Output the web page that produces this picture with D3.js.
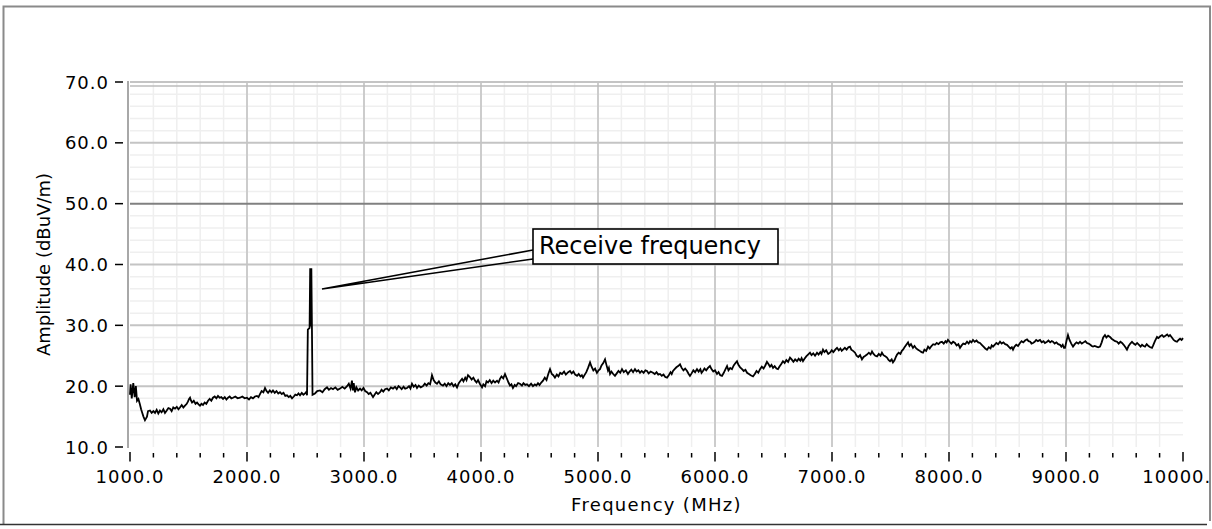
<!DOCTYPE html>
<html><head><meta charset="utf-8">
<script src="https://cdn.jsdelivr.net/npm/d3@7"></script>
<style>
html,body{margin:0;padding:0;background:#fff;}
svg{display:block;}
text{font-family:"DejaVu Sans",Verdana,sans-serif;}
</style></head>
<body>
<svg id="c" width="1212" height="529"></svg>
<script>
// ---- data: [frequency MHz, amplitude dBuV/m] ----
const traceLow = [[1000,18.6],[1005,20.3],[1015,18.0],[1028,20.5],[1040,18.2],[1050,20.0],[1060,17.6],[1072,17.9],[1085,17.0],[1095,16.2],[1103,15.7],[1115,15.0],[1128,14.4],[1137,14.7],[1145,15.0],[1154,15.9],[1171,16.0],[1185,15.6],[1200,15.9],[1214,15.6],[1228,16.1],[1242,15.5],[1256,16.0],[1270,15.7],[1285,16.2],[1299,15.6],[1314,16.0],[1328,16.4],[1342,16.3],[1356,15.9],[1370,16.5],[1385,16.3],[1400,16.6],[1414,16.2],[1427,16.5],[1442,16.9],[1456,16.5],[1470,16.8],[1485,17.1],[1496,17.5],[1505,17.9],[1513,18.1],[1522,17.6],[1530,17.3],[1545,17.6],[1560,17.1],[1573,17.3],[1586,17.0],[1598,16.8],[1611,17.1],[1624,16.9],[1638,17.3],[1652,17.1],[1667,17.6],[1681,17.9],[1695,17.6],[1709,18.1],[1724,18.3],[1738,18.0],[1752,18.4],[1766,18.1],[1780,18.2],[1795,17.9],[1810,18.2],[1824,17.8],[1838,18.1],[1852,18.3],[1866,18.0],[1880,18.1],[1900,18.3],[1920,18.0],[1940,18.1],[1960,18.3],[1980,18.0],[2000,18.1],[2017,17.8],[2034,18.2],[2051,18.0],[2068,18.3],[2085,18.4],[2098,18.2],[2111,18.7],[2125,19.2],[2140,19.0],[2154,19.7],[2167,19.2],[2180,18.9],[2195,19.3],[2210,19.0],[2222,19.3],[2237,18.9],[2252,19.2],[2267,18.8],[2282,19.0],[2297,18.7],[2312,18.9],[2327,18.4],[2342,18.5],[2357,18.2],[2370,18.4],[2385,18.0],[2400,18.3],[2413,18.6],[2427,18.5],[2440,18.8],[2453,18.5],[2468,18.9],[2482,18.6],[2496,18.8],[2508,19.1],[2513,18.5]];
const traceSpike = [[2520,29.3],[2535,29.6],[2540,39.4],[2545,29.8],[2550,39.4],[2555,29.6],[2560,18.6]];
const traceMid = [[2581,18.8],[2600,19.2],[2624,19.3],[2645,19.0],[2664,19.5],[2684,19.8],[2700,19.4],[2718,19.7],[2735,19.5],[2755,19.8],[2775,19.4],[2795,19.6],[2815,19.9],[2835,19.6],[2855,20.0],[2870,20.4],[2885,19.6],[2897,20.9],[2905,19.3],[2912,20.5],[2923,19.0],[2935,19.8],[2950,19.3],[2966,19.6],[2980,19.3],[2995,19.7],[3010,19.2],[3026,19.0],[3040,18.7],[3055,18.9],[3077,18.2],[3090,18.6],[3105,19.0],[3120,18.7],[3137,19.0],[3150,19.4],[3165,19.1],[3180,19.5],[3197,19.6],[3212,19.3],[3230,19.8],[3248,19.6],[3265,19.9],[3280,19.5],[3295,20.0],[3308,19.8],[3322,19.5],[3338,19.9],[3352,19.6],[3368,19.7],[3385,20.0],[3397,19.6],[3410,20.4],[3425,19.9],[3440,20.2],[3453,19.7],[3468,20.1],[3485,19.8],[3504,20.0],[3520,20.4],[3535,20.1],[3550,20.5],[3565,20.3],[3581,21.8],[3595,21.0],[3610,20.6],[3624,20.4],[3640,20.8],[3655,20.3],[3675,20.1],[3690,20.4],[3705,20.0],[3720,20.5],[3735,20.2],[3750,20.5],[3765,20.0],[3780,20.3],[3795,19.8],[3810,20.5],[3825,20.9],[3838,21.2],[3850,20.8],[3865,21.4],[3876,21.0],[3889,21.8],[3905,21.5],[3920,21.1],[3935,21.4],[3949,20.9],[3962,20.6],[3975,21.0],[3990,20.4],[4009,19.8],[4020,20.3],[4035,20.0],[4047,20.8],[4060,20.6],[4075,21.0],[4090,20.5],[4105,20.9],[4120,20.6],[4137,20.9],[4150,20.6],[4162,21.2],[4175,21.6],[4190,21.3],[4205,22.0],[4220,21.3],[4235,20.6],[4248,20.1],[4260,20.3],[4273,19.7],[4288,20.2],[4300,20.0],[4317,20.5],[4333,20.4],[4350,20.1],[4363,20.5],[4378,20.2],[4393,20.3],[4410,20.0],[4428,20.4],[4444,20.0],[4460,20.3],[4473,20.1],[4487,20.5],[4500,20.2],[4515,20.6],[4530,20.9],[4545,21.4],[4560,21.0],[4575,22.0],[4590,22.8],[4605,22.0],[4618,21.8],[4632,21.4],[4648,21.9],[4662,21.6],[4677,22.2],[4692,22.0],[4710,22.4],[4725,21.9],[4745,22.3],[4761,22.5],[4775,22.1],[4790,22.4],[4805,21.9],[4821,21.7],[4835,22.0],[4850,21.6],[4862,21.8],[4872,21.4],[4887,21.9],[4900,22.3],[4915,23.0],[4932,23.9],[4945,23.2],[4960,22.6],[4975,22.9],[4991,22.2],[5005,22.6],[5017,22.8],[5030,23.4],[5045,23.8],[5060,24.4],[5072,23.5],[5085,22.6],[5093,23.0],[5103,22.0],[5115,22.4],[5130,22.0],[5145,21.7],[5160,22.1],[5175,22.5],[5190,22.2],[5205,22.8],[5220,22.3],[5238,22.6],[5256,22.0],[5270,22.4],[5285,22.7],[5300,22.3],[5316,22.8],[5330,22.4],[5345,22.6],[5359,22.2],[5373,22.5],[5390,22.2],[5405,22.6],[5419,22.5],[5433,22.1],[5450,22.4],[5470,22.2],[5485,22.0],[5500,22.3],[5515,21.9],[5530,22.0],[5545,21.7],[5560,21.9],[5575,21.5],[5590,21.4],[5605,21.8],[5620,22.3],[5630,22.0],[5641,22.5],[5655,22.8],[5670,23.1],[5685,23.3],[5701,23.6],[5715,23.0],[5730,22.6],[5745,22.9],[5761,22.5],[5775,22.0],[5786,21.7],[5800,22.1],[5815,22.6],[5830,22.3],[5846,22.8],[5860,22.4],[5875,22.8],[5885,22.2],[5897,22.5],[5910,22.9],[5925,22.6],[5940,23.0],[5957,23.3],[5970,22.8],[5985,22.4]];
const traceHigh = [[6000,22.6],[6017,22.0],[6030,22.3],[6045,21.8],[6060,21.7],[6075,22.2],[6090,22.8],[6103,23.3],[6115,22.6],[6130,23.0],[6145,22.8],[6160,23.4],[6175,23.8],[6188,24.1],[6200,23.5],[6215,23.1],[6231,22.8],[6245,22.5],[6260,22.7],[6274,22.2],[6290,22.0],[6305,21.8],[6325,21.6],[6340,22.0],[6355,22.5],[6370,22.2],[6385,22.8],[6400,23.2],[6415,22.9],[6430,23.4],[6444,24.0],[6458,23.6],[6470,23.2],[6483,23.5],[6496,23.0],[6510,23.3],[6525,22.9],[6538,22.8],[6550,23.2],[6565,23.6],[6581,24.1],[6595,23.8],[6610,24.3],[6625,24.0],[6641,24.7],[6655,24.4],[6670,24.0],[6685,24.4],[6701,24.1],[6715,24.5],[6730,24.2],[6740,24.6],[6752,24.1],[6765,24.5],[6780,24.9],[6795,25.2],[6812,25.5],[6825,25.1],[6840,25.4],[6855,25.0],[6872,25.5],[6885,25.2],[6900,25.6],[6910,25.3],[6923,26.0],[6935,25.6],[6950,25.9],[6968,25.3],[6983,25.5],[6998,25.9],[7012,25.6],[7028,26.0],[7043,26.3],[7058,25.9],[7072,26.2],[7083,25.8],[7094,26.0],[7110,26.3],[7125,26.0],[7140,26.4],[7154,26.5],[7165,26.0],[7180,25.8],[7197,25.5],[7210,25.0],[7225,24.8],[7240,25.1],[7256,24.4],[7270,24.8],[7285,25.0],[7299,25.2],[7315,25.5],[7330,25.2],[7342,25.7],[7355,25.3],[7370,25.0],[7385,24.9],[7400,25.3],[7415,25.0],[7427,25.5],[7440,25.1],[7455,24.9],[7470,24.7],[7483,24.3],[7496,24.1],[7510,24.4],[7521,23.9],[7535,24.3],[7546,24.8],[7556,25.2],[7570,25.5],[7585,25.3],[7597,25.8],[7607,26.0],[7620,26.4],[7635,26.8],[7650,27.2],[7662,26.6],[7675,26.9],[7692,26.3],[7705,26.6],[7720,26.2],[7735,26.0],[7750,25.8],[7765,25.6],[7778,25.5],[7790,26.0],[7805,25.8],[7821,26.5],[7835,26.2],[7850,26.6],[7865,26.9],[7880,26.8],[7895,27.1],[7910,26.9],[7925,27.2],[7940,27.3],[7955,27.0],[7970,27.4],[7980,27.2],[7991,27.6],[8005,27.3],[8020,27.0],[8035,27.3],[8051,27.1],[8065,26.7],[8080,26.9],[8094,26.3],[8108,26.7],[8122,27.0],[8138,26.9],[8154,27.3],[8168,27.0],[8180,27.4],[8192,27.2],[8205,27.6],[8220,27.3],[8235,27.5],[8250,27.2],[8265,27.1],[8280,26.8],[8295,26.5],[8310,26.2],[8325,26.0],[8340,26.4],[8355,26.2],[8365,26.7],[8376,26.5],[8390,26.8],[8405,27.1],[8420,26.9],[8436,27.3],[8450,27.0],[8465,27.2],[8480,26.9],[8496,26.8],[8510,26.5],[8525,26.2],[8537,26.4],[8547,26.0],[8560,26.5],[8575,26.8],[8590,26.6],[8607,27.1],[8620,27.4],[8635,27.2],[8650,27.5],[8667,27.7],[8680,27.4],[8695,27.3],[8705,27.0],[8718,27.1],[8732,27.3],[8745,27.6],[8760,27.4],[8778,27.6],[8792,27.2],[8808,27.4],[8820,27.1],[8838,27.3],[8850,27.5],[8865,27.2],[8878,27.4],[8889,27.3],[8903,27.0],[8918,27.2],[8933,26.9],[8949,26.8],[8960,26.5],[8972,26.8],[8982,26.3],[8991,26.3],[9005,27.5],[9017,28.4],[9030,27.6],[9045,27.0],[9060,26.5],[9075,26.9],[9090,27.2],[9105,27.0],[9120,27.3],[9135,27.0],[9150,27.2],[9165,27.4],[9179,27.1],[9193,27.0],[9208,26.8],[9220,26.6],[9231,26.5],[9245,26.6],[9260,26.5],[9275,26.4],[9291,26.5],[9305,27.2],[9318,28.0],[9333,28.4],[9345,28.0],[9360,28.3],[9376,28.1],[9390,27.8],[9405,27.6],[9420,27.4],[9436,27.3],[9450,27.0],[9465,27.3],[9479,27.1],[9493,26.8],[9508,26.4],[9521,26.0],[9535,26.6],[9550,27.0],[9564,27.3],[9578,27.0],[9593,26.8],[9608,27.1],[9624,26.8],[9638,26.5],[9650,26.8],[9663,26.6],[9675,26.5],[9690,26.9],[9705,26.6],[9720,26.4],[9735,26.3],[9745,26.7],[9760,27.4],[9778,28.1],[9790,27.9],[9805,28.2],[9821,28.4],[9835,28.1],[9850,28.3],[9865,28.5],[9878,28.2],[9889,28.4],[9905,28.0],[9920,27.6],[9935,27.4],[9949,27.3],[9962,27.6],[9975,27.8],[9988,27.6],[10000,27.9]];
const xTicks = [1000,2000,3000,4000,5000,6000,7000,8000,9000,10000];
const yTicks = [10,20,30,40,50,60,70];
const limitLine = 50;
const annotationText = "Receive frequency";
const xTitle = "Frequency (MHz)";
const yTitle = "Amplitude (dBuV/m)";

// ---- build ----
const data = traceLow.concat(traceSpike, traceMid, traceHigh);

const svg = d3.select("#c");
const x = d3.scaleLinear().domain([1000,10000]).range([130,1183]);
const y = d3.scaleLinear().domain([10,70]).range([447,82]);

svg.append("defs").append("clipPath").attr("id","frameclip")
  .append("rect").attr("x",4).attr("y",7).attr("width",1205).attr("height",516);
const g = svg.append("g").attr("clip-path","url(#frameclip)");

// minor grid
const xMinor = d3.range(1000,10000.1,200).filter(v=>v%1000!==0);
const yMinor = d3.range(10,70.1,2).filter(v=>v%10!==0);
g.append("g").selectAll("line").data(xMinor).join("line")
  .attr("x1",d=>x(d)).attr("x2",d=>x(d)).attr("y1",y(70)).attr("y2",y(10))
  .attr("stroke","#efefef").attr("stroke-width",1.5);
g.append("g").selectAll("line").data(yMinor).join("line")
  .attr("y1",d=>y(d)).attr("y2",d=>y(d)).attr("x1",x(1000)).attr("x2",x(10000))
  .attr("stroke","#efefef").attr("stroke-width",1.5);
// major grid
g.append("g").selectAll("line").data(xTicks.slice(1,-1)).join("line")
  .attr("x1",d=>x(d)).attr("x2",d=>x(d)).attr("y1",y(70)).attr("y2",y(10))
  .attr("stroke","#cccccc").attr("stroke-width",2);
g.append("g").selectAll("line").data(yTicks.filter(v=>v!==10 && v!==limitLine)).join("line")
  .attr("y1",d=>y(d)).attr("y2",d=>y(d)).attr("x1",x(1000)).attr("x2",x(10000))
  .attr("stroke","#c4c4c4").attr("stroke-width",2);
// second top line
g.append("line").attr("x1",x(1000)).attr("x2",x(10000)).attr("y1",y(70)+4).attr("y2",y(70)+4)
  .attr("stroke","#bbbbbb").attr("stroke-width",1.5);
// limit line
g.append("line").attr("x1",x(1000)).attr("x2",x(10000)).attr("y1",y(limitLine)).attr("y2",y(limitLine))
  .attr("stroke","#808080").attr("stroke-width",2);
// left plot edge
g.append("line").attr("x1",x(1000)-2).attr("x2",x(1000)-2).attr("y1",y(70)-1).attr("y2",y(10)+1)
  .attr("stroke","#a8a8a8").attr("stroke-width",2);

// trace
g.append("path").datum(data)
  .attr("d", d3.line().x(d=>x(d[0])).y(d=>y(d[1])))
  .attr("fill","none").attr("stroke","#000").attr("stroke-width",1.8).attr("stroke-linejoin","miter");

// y axis ticks & labels
const yAx = g.append("g");
yAx.selectAll("line").data(yTicks).join("line")
  .attr("x1",115).attr("x2",123).attr("y1",d=>y(d)).attr("y2",d=>y(d))
  .attr("stroke","#000").attr("stroke-width",1.5);
yAx.selectAll("text").data(yTicks).join("text")
  .attr("x",109).attr("y",d=>y(d)+6.5).attr("text-anchor","end")
  .attr("font-size",18).attr("letter-spacing",1).attr("fill","#000")
  .text(d=>d3.format(".1f")(d));

// x axis ticks
const xAx = g.append("g");
xAx.selectAll("line.mi").data(xMinor).join("line").attr("class","mi")
  .attr("x1",d=>x(d)).attr("x2",d=>x(d)).attr("y1",453).attr("y2",457.5)
  .attr("stroke","#000").attr("stroke-width",1.5);
xAx.selectAll("line.ma").data(xTicks).join("line").attr("class","ma")
  .attr("x1",d=>x(d)).attr("x2",d=>x(d)).attr("y1",452).attr("y2",461.5)
  .attr("stroke","#000").attr("stroke-width",1.5);
xAx.selectAll("text").data(xTicks).join("text")
  .attr("x",d=>x(d)).attr("y",483).attr("text-anchor","middle")
  .attr("font-size",18).attr("letter-spacing",1).attr("fill","#000")
  .text(d=>d3.format(".1f")(d));

// axis titles
g.append("text").attr("x",(x(1000)+x(10000))/2).attr("y",511).attr("text-anchor","middle")
  .attr("font-size",18).attr("letter-spacing",1.3).attr("fill","#000").text(xTitle);
g.append("text").attr("transform",`translate(50,${(y(10)+y(70))/2}) rotate(-90)`)
  .attr("text-anchor","middle").attr("font-size",18).attr("letter-spacing",0).attr("fill","#000").text(yTitle);

// annotation
const tip = [322, 289];
const bx=533, by=229, bw=245, bh=35;
g.append("path").attr("d",`M${bx},${by+21}L${tip[0]},${tip[1]}L${bx},${by+30}`)
  .attr("fill","none").attr("stroke","#000").attr("stroke-width",1.6);
g.append("rect").attr("x",bx).attr("y",by).attr("width",bw).attr("height",bh)
  .attr("fill","#fff").attr("stroke","#000").attr("stroke-width",1.6);
g.append("text").attr("x",bx+6).attr("y",by+25).attr("font-family","'Liberation Sans',Arial,sans-serif")
  .attr("font-size",24).attr("fill","#000").text(annotationText);

// outer frame
svg.append("path").attr("d","M3.5,524 L3.5,6.5 L1210,6.5 L1210,521")
  .attr("fill","none").attr("stroke","#8a8a8a").attr("stroke-width",2);
svg.append("line").attr("x1",0).attr("x2",1207).attr("y1",524.5).attr("y2",524.5)
  .attr("stroke","#333").attr("stroke-width",1.5);
</script>
</body></html>
